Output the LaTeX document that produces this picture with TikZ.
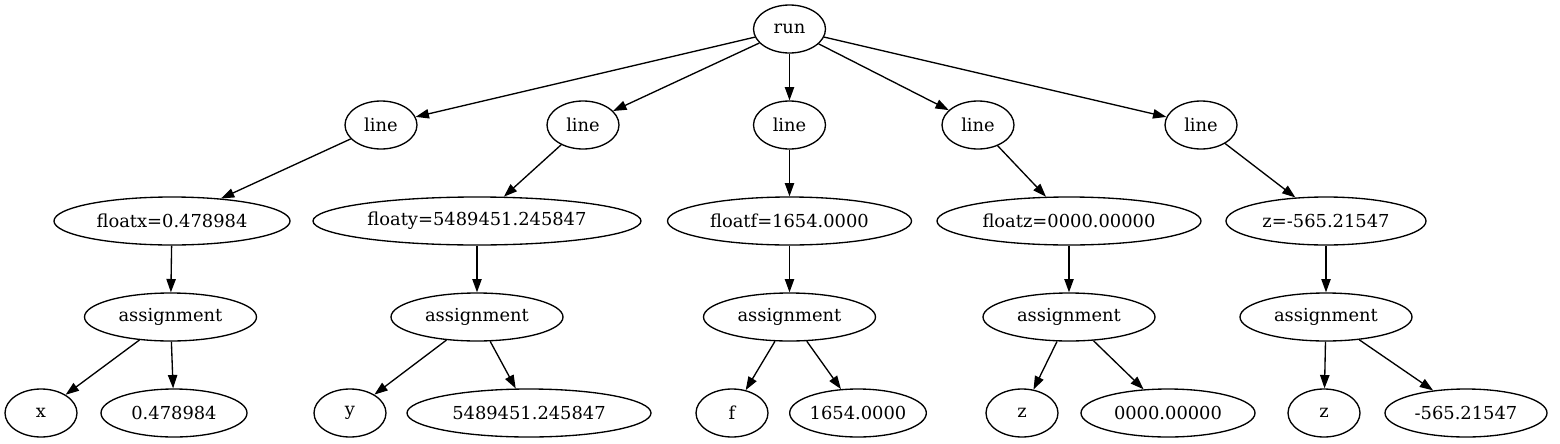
\documentclass[tikz,border=0pt]{standalone}
\usepackage{fontspec}
\setmainfont{DejaVu Serif}
\usetikzlibrary{shapes.geometric,arrows.meta}
\begin{document}
\begin{tikzpicture}[x=0.75pt,y=-0.75pt,
  el/.style={draw,ellipse,line width=1pt,inner sep=0pt,minimum height=36pt,font=\fontsize{13.4pt}{15pt}\selectfont},
  edge/.style={line width=1pt,-{Triangle[length=10pt,width=7pt]}}]
\useasboundingbox (0,0) rectangle (1560,443);
\node[el,minimum width=54pt] (run) at (789.5,29) {run};
\node[el,minimum width=54pt] (l1) at (381,125) {line};
\node[el,minimum width=54pt] (l2) at (583,125) {line};
\node[el,minimum width=54pt] (l3) at (789.5,125) {line};
\node[el,minimum width=54pt] (l4) at (978,125) {line};
\node[el,minimum width=54pt] (l5) at (1201,125) {line};
\node[el,minimum width=177pt] (f1) at (172,221) {floatx=0.478984};
\node[el,minimum width=246pt] (f2) at (477,221) {floaty=5489451.245847};
\node[el,minimum width=183pt] (f3) at (789.5,221) {floatf=1654.0000};
\node[el,minimum width=198pt] (f4) at (1069,221) {floatz=0000.00000};
\node[el,minimum width=150pt] (f5) at (1326,221) {z=-565.21547};
\node[el,minimum width=129pt] (a1) at (170.5,317) {assignment};
\node[el,minimum width=129pt] (a2) at (477,317) {assignment};
\node[el,minimum width=129pt] (a3) at (789.5,317) {assignment};
\node[el,minimum width=129pt] (a4) at (1069,317) {assignment};
\node[el,minimum width=129pt] (a5) at (1326,317) {assignment};
\node[el,minimum width=54pt] (v1) at (41,413) {x};
\node[el,minimum width=109.5pt] (n1) at (174,413) {0.478984};
\node[el,minimum width=54pt] (v2) at (350,413) {y};
\node[el,minimum width=183pt] (n2) at (529,413) {5489451.245847};
\node[el,minimum width=54pt] (v3) at (732,413) {f};
\node[el,minimum width=97.5pt] (n3) at (858,413) {1654.0000};
\node[el,minimum width=54pt] (v4) at (1022,413) {z};
\node[el,minimum width=130.5pt] (n4) at (1168,413) {0000.00000};
\node[el,minimum width=54pt] (v5) at (1324,413) {z};
\node[el,minimum width=121.5pt] (n5) at (1466,413) {-565.21547};
\foreach \i in {1,...,5}{
  \draw[edge] (run) -- (l\i);
  \draw[edge] (l\i) -- (f\i);
  \draw[edge] (f\i) -- (a\i);
  \draw[edge] (a\i) -- (v\i);
  \draw[edge] (a\i) -- (n\i);
}
\end{tikzpicture}
\end{document}
